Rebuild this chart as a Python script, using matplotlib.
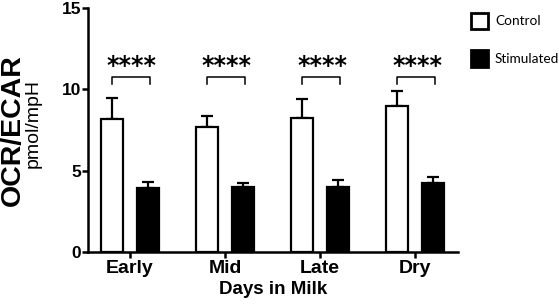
import matplotlib
matplotlib.use("Agg")
import matplotlib.pyplot as plt
import numpy as np
from matplotlib.patches import Patch

categories = ["Early", "Mid", "Late", "Dry"]
control = [8.17, 7.68, 8.26, 9.0]
control_err = [1.31, 0.70, 1.14, 0.92]
stimulated = [3.95, 3.97, 3.97, 4.22]
stimulated_err = [0.37, 0.29, 0.45, 0.37]
sig_labels = ["****", "****", "****", "****"]
yticks = [0, 5, 10, 15]

plt.rcParams['font.family'] = ['Liberation Sans', 'DejaVu Sans']

fig = plt.figure(figsize=(5.59, 3.07), dpi=100)
ax = fig.add_axes([88/559, 1-252/307, (458-88)/559, (252-8)/307])

x = np.arange(len(categories))
off = 0.19
w = 0.23
lw = 1.6
ax.bar(x - off, control, w, color='white', edgecolor='black', linewidth=lw, zorder=3)
ax.bar(x + off, stimulated, w, color='black', edgecolor='black', linewidth=lw, zorder=3)
ax.errorbar(x - off, control, yerr=[np.zeros(len(x)), control_err], fmt='none',
            ecolor='black', elinewidth=lw, capsize=4.5, capthick=lw, zorder=2)
ax.errorbar(x + off, stimulated, yerr=[np.zeros(len(x)), stimulated_err], fmt='none',
            ecolor='black', elinewidth=lw, capsize=4.5, capthick=lw, zorder=2)

# significance brackets
yb, yl = 10.76, 10.33
for xi, s in zip(x, sig_labels):
    ax.plot([xi - off, xi - off, xi + off + 0.02, xi + off + 0.02], [yl, yb, yb, yl],
            color='black', lw=1.1, clip_on=False)
    ax.text(xi + 0.02, 11.43, s, ha='center', va='center', fontsize=17,
            fontweight='bold', family='DejaVu Sans')

ax.set_xlim(-0.44, 3.45)
ax.set_ylim(0, 15)
ax.set_yticks(yticks)
ax.set_yticklabels([str(v) for v in yticks], fontsize=12.5, fontweight='bold')
ax.set_xticks(x)
ax.set_xticklabels(categories, fontsize=14, fontweight='bold')
for sp in ['top', 'right']:
    ax.spines[sp].set_visible(False)
for sp in ['left', 'bottom']:
    ax.spines[sp].set_linewidth(1.8)
ax.tick_params(axis='both', width=1.8, length=4, direction='out', pad=2)
ax.tick_params(axis='y', pad=1)

ax.set_xlabel("Days in Milk", fontsize=13.5, fontweight='bold', labelpad=3)

fig.text(12.5/559, 1-130/307, "OCR/ECAR", rotation=90, ha='center', va='center',
         fontsize=20.5, fontweight='bold')
fig.text(33.5/559, 1-123/307, "pmol/mpH", rotation=90, ha='center', va='center',
         fontsize=14)

handles = [Patch(facecolor='white', edgecolor='black', linewidth=2),
           Patch(facecolor='black', edgecolor='black', linewidth=2)]
fig.legend(handles, ["Control", "Stimulated"], loc='upper left',
           bbox_to_anchor=(461/559, 1-3/307), frameon=False,
           prop={'family': 'Lato', 'size': 9.8}, handlelength=1.3,
           handleheight=1.45, labelspacing=1.6, handletextpad=0.5,
           borderaxespad=0.3)

fig.savefig("out.png", dpi=100)
